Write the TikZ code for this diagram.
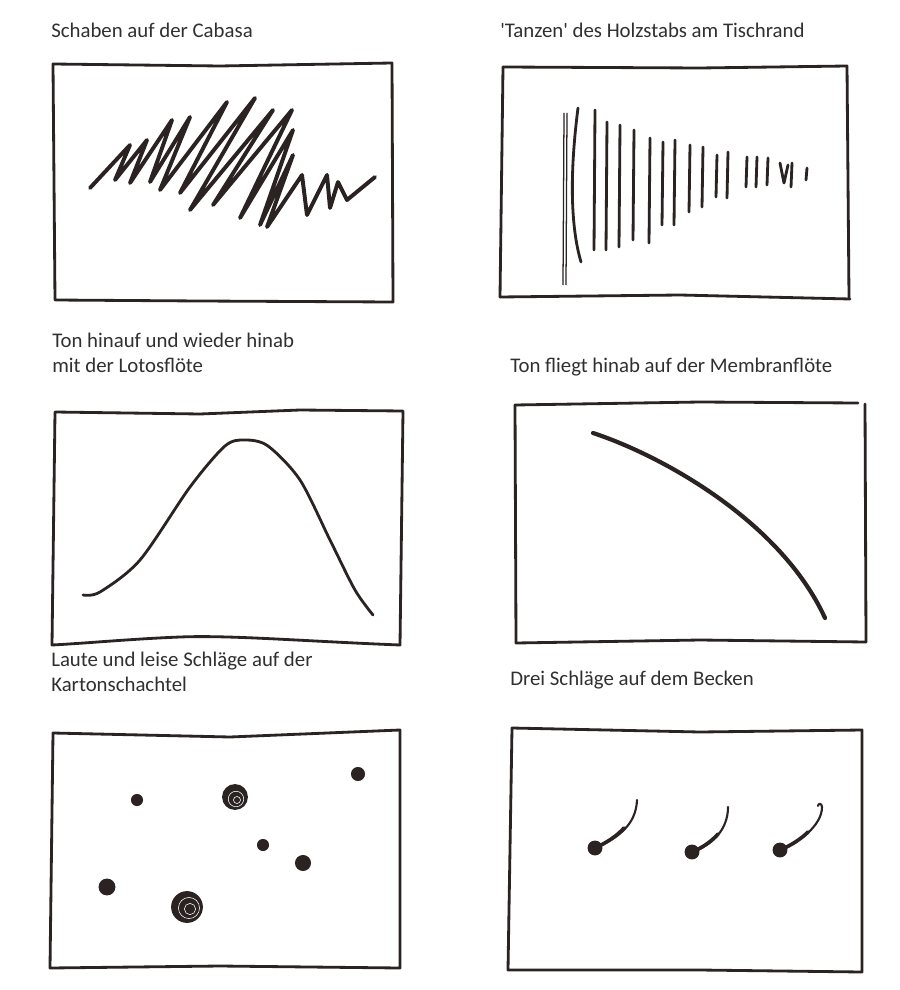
\documentclass[tikz,border=0pt]{standalone}
\usepackage{fontspec}
\setmainfont{Carlito}
\usepackage{tikz}
\definecolor{ink}{HTML}{2B2222}
\definecolor{txt}{HTML}{303030}

\begin{document}
\begin{tikzpicture}[x=0.025cm, y=-0.025cm,
  frame/.style={line width=2pt, draw=ink, line cap=round, line join=round},
  pen/.style={line width=2.4pt, draw=ink, line cap=round, line join=round},
  caption/.style={anchor=base west, inner sep=0pt, text=txt, align=left,
    font=\fontsize{14.8}{17.7}\selectfont}]
  \useasboundingbox[fill=white] (0,0) rectangle (899,990);

  % captions
  \node[caption] (capCabasa) at (51,38) {Schaben auf der Cabasa};
  \node[caption] (capHolz) at (500,38) {\textquotesingle Tanzen\textquotesingle{} des Holzstabs am Tischrand};
  \node[caption] (capLotos) at (52,372) {Ton hinauf und wieder hinab\\mit der Lotosflöte};
  \node[caption] (capMembran) at (510,372) {Ton fliegt hinab auf der Membranflöte};
  \node[caption] (capKarton) at (51,691) {Laute und leise Schläge auf der\\Kartonschachtel};
  \node[caption] (capBecken) at (510,685) {Drei Schläge auf dem Becken};

  % frames
  \draw[frame] (53,64) -- (220,66) -- (392,63) -- (393,302) -- (200,301) -- (55,300) -- cycle;
  \draw[frame] (503,67) -- (700,68) -- (847,66) -- (849,298);
  \draw[frame] (500,297) -- (503,67);
  \draw[frame] (500,297) -- (680,295) -- (850,299);
  \draw[frame] (55,412) -- (200,414) -- (300,410) -- (403,411) -- (400,645)
    .. controls (300,641) and (230,635) .. (180,637) .. controls (130,639) and (90,643) .. (52,645) -- cycle;
  \draw[frame] (515,405) -- (700,402) -- (858,403);
  \draw[frame] (865,404) -- (866,642);
  \draw[frame] (515,405) -- (516,643) -- (700,640) -- (866,642);
  \draw[frame] (53,733) -- (230,737) -- (400,730) -- (400,968) -- (220,966) -- (50,968) -- cycle;
  \draw[frame] (512,728) -- (700,732) -- (862,730) -- (862,972) -- (700,970) -- (508,970) -- cycle;

  % Cabasa
  \draw[pen, line width=2.8pt] (90,188) -- (130,145) -- (115,180) -- (147,140) -- (130,183)
    -- (172,120) -- (150,182) -- (190,117) -- (160,190) -- (227,102) -- (180,193)
    -- (255,98) -- (190,210) -- (273,110) -- (213,205) -- (292,110) -- (240,218)
    -- (293,130) -- (260,225) -- (293,155) -- (267,227) -- (302,175) -- (307,215)
    -- (327,175) -- (330,208) -- (338,182) -- (347,200) -- (375,177);

  % Holzstab
  \draw[ink, line width=0.9pt] (564,113) -- (563,285);
  \draw[ink, line width=0.9pt] (567,113) -- (566,285);
  \draw[pen, line width=2pt] (578,108) .. controls (570,170) and (570,225) .. (581,262);
  \foreach \x/\a/\b in {595/110/250, 607/122/250, 620/125/247, 634/130/240, 650/138/243,
      663/142/225, 675/140/225, 690/145/212, 703/147/207, 717/155/197, 728/152/198,
      747/157/187, 757/157/187, 768/158/185, 792/163/187, 807/168/180}
    \draw[pen, line width=2pt] (\x,\a) -- (\x-1,\b);
  \draw[pen, line width=2pt] (780,163) -- (784,183) -- (788,165);

  % Lotosfloete
  \draw[pen, line width=2pt] plot[smooth, tension=0.5] coordinates {(83,595) (100,592) (140,560)
    (190,487) (225,446) (245,440) (268,446) (300,480) (330,540) (355,590) (373,615)};

  % Membranfloete
  \draw[pen, line width=3pt] (593,433) .. controls (660,455) and (780,520) .. (825,618);

  % Kartonschachtel
  \fill[ink] (137,800) circle[radius=4.3pt];
  \fill[ink] (235,797) circle[radius=9.2pt];
  \draw[white, line width=0.4pt] (236,799) circle[radius=5.5pt];
  \draw[white, line width=0.4pt] (237,800) circle[radius=2.5pt];
  \fill[ink] (358,774) circle[radius=5pt];
  \fill[ink] (263,845) circle[radius=4.3pt];
  \fill[ink] (303,863) circle[radius=5.7pt];
  \fill[ink] (107,887) circle[radius=6pt];
  \fill[ink] (187,907) circle[radius=11.3pt];
  \draw[white, line width=0.4pt] (189,908) circle[radius=7.5pt];
  \draw[white, line width=0.4pt] (190,909) circle[radius=4pt];

  % Becken
  \fill[ink] (595,848) circle[radius=5.3pt];
  \draw[pen, line width=1.5pt] (595,848) .. controls (618,838) and (636,825) .. (637,800);
  \draw[pen, line width=2.6pt] (595,848) .. controls (606,843) and (617,836) .. (624,828);
  \fill[ink] (692,852) circle[radius=5.3pt];
  \draw[pen, line width=1.5pt] (692,852) .. controls (712,845) and (728,830) .. (728,807);
  \draw[pen, line width=2.6pt] (692,852) .. controls (702,848) and (712,841) .. (718,834);
  \fill[ink] (780,850) circle[radius=5.3pt];
  \draw[pen, line width=1.5pt] (780,850) .. controls (800,842) and (822,825) .. (822,807)
    .. controls (822,803) and (818,803) .. (818,806);
  \draw[pen, line width=2.6pt] (780,850) .. controls (790,846) and (801,839) .. (808,832);
\end{tikzpicture}
\end{document}
